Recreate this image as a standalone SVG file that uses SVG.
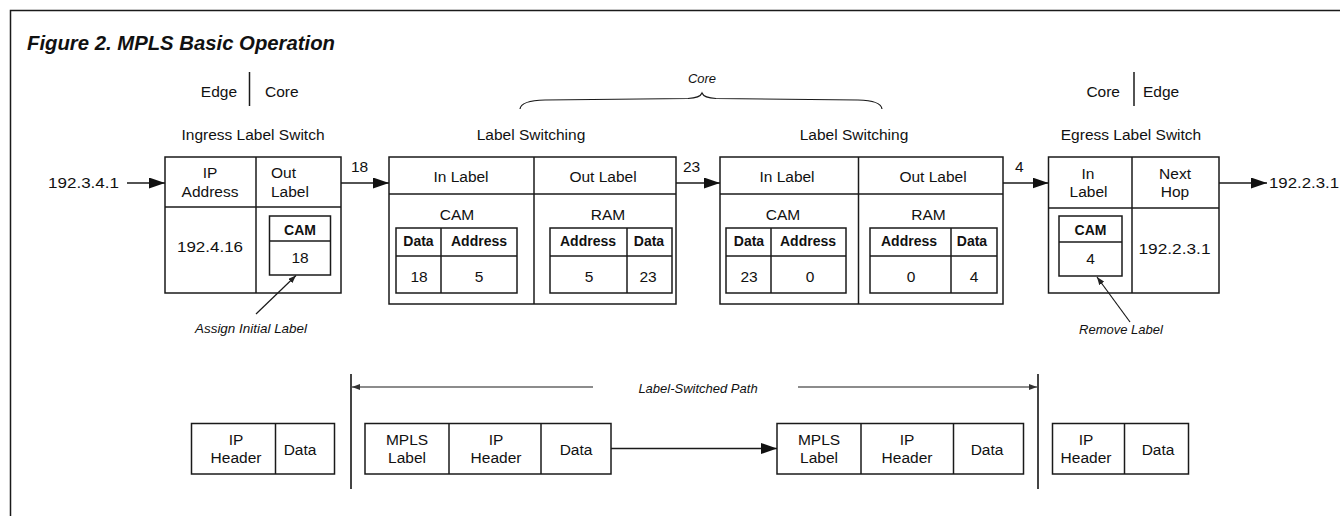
<svg xmlns="http://www.w3.org/2000/svg" width="1340" height="516" viewBox="0 0 1340 516">
  <style>
    text { font-family: "Liberation Sans", Arial, sans-serif; fill: #111; }
    .t { font-size: 15.5px; text-anchor: middle; }
    .ts { font-size: 15.5px; }
    .b { font-size: 14px; font-weight: bold; text-anchor: middle; }
    .it { font-size: 13px; font-style: italic; text-anchor: middle; }
    .title { font-size: 21px; font-weight: bold; font-style: italic; }
    .box { fill: #fff; stroke: #1a1a1a; stroke-width: 1.5; }
    .ln { fill: none; stroke: #1a1a1a; stroke-width: 1.5; }
    .thin { fill: none; stroke: #1a1a1a; stroke-width: 1.2; }
    .lsp { fill: none; stroke: #666; stroke-width: 1.5; }
    .bar { fill: none; stroke: #444; stroke-width: 2; }
  </style>
  <defs>
    <marker id="big" viewBox="0 0 16 11" refX="16" refY="5.5" markerWidth="16" markerHeight="11" markerUnits="userSpaceOnUse" orient="auto">
      <path d="M0,0 L16,5.5 L0,11 z" fill="#111"/>
    </marker>
    <marker id="small" viewBox="0 0 8 6" refX="8" refY="3" markerWidth="8" markerHeight="6" markerUnits="userSpaceOnUse" orient="auto-start-reverse">
      <path d="M0,0 L8,3 L0,6 z" fill="#222"/>
    </marker>
    <marker id="lspHead" viewBox="0 0 8 6" refX="8" refY="3" markerWidth="8" markerHeight="6" markerUnits="userSpaceOnUse" orient="auto-start-reverse">
      <path d="M0,0 L8,3 L0,6 z" fill="#333"/>
    </marker>
  </defs>

  <rect width="1340" height="516" fill="#fff"/>
  <!-- frame -->
  <path d="M10.5,516 V10.5 H1340" class="ln"/>

  <text x="27" y="50" class="title" textLength="308" lengthAdjust="spacingAndGlyphs">Figure 2. MPLS Basic Operation</text>

  <!-- edge / core boundaries -->
  <g id="boundary-left">
    <text x="237" y="97" class="ts" text-anchor="end">Edge</text>
    <line x1="249.5" y1="72" x2="249.5" y2="106" class="ln"/>
    <text x="265" y="97" class="ts">Core</text>
  </g>
  <g id="boundary-right">
    <text x="1120" y="97" class="ts" text-anchor="end">Core</text>
    <line x1="1134" y1="72" x2="1134" y2="106" class="ln"/>
    <text x="1143" y="97" class="ts">Edge</text>
  </g>
  <g id="core-brace">
    <text x="702" y="83" class="it">Core</text>
    <path d="M520,109 Q521,100.5 545,100 L688,98.5 Q700,98 702,93 Q704,98 716,98.5 L858,100 Q881,100.5 882,109" class="thin"/>
  </g>

  <!-- ingress switch -->
  <g id="ingress">
    <text x="253" y="140" class="t">Ingress Label Switch</text>
    <rect x="165" y="157" width="176" height="136" class="box"/>
    <line x1="165" y1="207" x2="341" y2="207" class="ln"/>
    <line x1="256" y1="157" x2="256" y2="293" class="ln"/>
    <text x="210" y="178" class="t">IP</text>
    <text x="210" y="197" class="t">Address</text>
    <text x="271" y="178" class="ts">Out</text>
    <text x="271" y="197" class="ts">Label</text>
    <text x="210" y="252" class="t" textLength="66" lengthAdjust="spacingAndGlyphs">192.4.16</text>
    <rect x="269.5" y="216" width="61" height="59" class="box"/>
    <line x1="269.5" y1="241" x2="330.5" y2="241" class="ln"/>
    <text x="300" y="235" class="b">CAM</text>
    <text x="300" y="263" class="t">18</text>
    <text x="251" y="333" class="it" textLength="112" lengthAdjust="spacingAndGlyphs">Assign Initial Label</text>
  </g>

  <!-- core label switch 1 -->
  <g id="lsr-1">
    <text x="531" y="140" class="t">Label Switching</text>
    <rect x="389" y="157" width="287" height="147" class="box"/>
    <line x1="389" y1="194" x2="676" y2="194" class="ln"/>
    <line x1="534" y1="157" x2="534" y2="304" class="ln"/>
    <text x="461" y="182" class="t">In Label</text>
    <text x="603" y="182" class="t">Out Label</text>
    <text x="457" y="220" class="t">CAM</text>
    <text x="608" y="220" class="t">RAM</text>
    <rect x="396" y="228" width="121" height="65" class="box"/>
    <line x1="441" y1="228" x2="441" y2="293" class="ln"/>
    <line x1="396" y1="256" x2="517" y2="256" class="ln"/>
    <text x="418.5" y="246" class="b">Data</text>
    <text x="479" y="246" class="b">Address</text>
    <text x="419" y="282" class="t">18</text>
    <text x="479" y="282" class="t">5</text>
    <rect x="550" y="228" width="122" height="65" class="box"/>
    <line x1="627" y1="228" x2="627" y2="293" class="ln"/>
    <line x1="550" y1="256" x2="672" y2="256" class="ln"/>
    <text x="588" y="246" class="b">Address</text>
    <text x="649" y="246" class="b">Data</text>
    <text x="589" y="282" class="t">5</text>
    <text x="648" y="282" class="t">23</text>
  </g>

  <!-- core label switch 2 -->
  <g id="lsr-2">
    <text x="854" y="140" class="t">Label Switching</text>
    <rect x="720" y="157" width="283" height="147" class="box"/>
    <line x1="720" y1="194" x2="1003" y2="194" class="ln"/>
    <line x1="858.5" y1="157" x2="858.5" y2="304" class="ln"/>
    <text x="787" y="182" class="t">In Label</text>
    <text x="933" y="182" class="t">Out Label</text>
    <text x="783" y="220" class="t">CAM</text>
    <text x="928.5" y="220" class="t">RAM</text>
    <rect x="726" y="228" width="120" height="65" class="box"/>
    <line x1="771" y1="228" x2="771" y2="293" class="ln"/>
    <line x1="726" y1="256" x2="846" y2="256" class="ln"/>
    <text x="749" y="246" class="b">Data</text>
    <text x="808" y="246" class="b">Address</text>
    <text x="749" y="282" class="t">23</text>
    <text x="810" y="282" class="t">0</text>
    <rect x="870" y="228" width="127" height="65" class="box"/>
    <line x1="951" y1="228" x2="951" y2="293" class="ln"/>
    <line x1="870" y1="256" x2="997" y2="256" class="ln"/>
    <text x="909" y="246" class="b">Address</text>
    <text x="972" y="246" class="b">Data</text>
    <text x="911" y="282" class="t">0</text>
    <text x="974" y="282" class="t">4</text>
  </g>

  <!-- egress switch -->
  <g id="egress">
    <text x="1131" y="140" class="t">Egress Label Switch</text>
    <rect x="1048.5" y="157" width="170.5" height="136" class="box"/>
    <line x1="1048.5" y1="208" x2="1219" y2="208" class="ln"/>
    <line x1="1132" y1="157" x2="1132" y2="293" class="ln"/>
    <text x="1088" y="179" class="t">In</text>
    <text x="1088.5" y="197" class="t">Label</text>
    <text x="1175" y="179" class="t">Next</text>
    <text x="1175" y="197" class="t">Hop</text>
    <rect x="1059" y="216" width="63" height="60" class="box"/>
    <line x1="1059" y1="242" x2="1122" y2="242" class="ln"/>
    <text x="1090.5" y="235" class="b">CAM</text>
    <text x="1090.5" y="263.5" class="t">4</text>
    <text x="1174.5" y="254" class="t" textLength="72" lengthAdjust="spacingAndGlyphs">192.2.3.1</text>
    <text x="1121" y="334" class="it">Remove Label</text>
  </g>

  <!-- packet formats along the path -->
  <g id="packet-ip-in">
    <rect x="191.5" y="423.5" width="143" height="50.5" class="box"/>
    <line x1="275.5" y1="423.5" x2="275.5" y2="474" class="ln"/>
    <text x="236" y="445" class="t">IP</text>
    <text x="236" y="463" class="t">Header</text>
    <text x="300" y="455" class="t">Data</text>
  </g>
  <g id="packet-mpls-1">
    <rect x="365" y="423.5" width="246" height="50.5" class="box"/>
    <line x1="449" y1="423.5" x2="449" y2="474" class="ln"/>
    <line x1="541" y1="423.5" x2="541" y2="474" class="ln"/>
    <text x="407" y="445" class="t">MPLS</text>
    <text x="407" y="463" class="t">Label</text>
    <text x="496" y="445" class="t">IP</text>
    <text x="496" y="463" class="t">Header</text>
    <text x="576" y="455" class="t">Data</text>
  </g>
  <g id="packet-mpls-2">
    <rect x="777" y="423.5" width="246.5" height="50.5" class="box"/>
    <line x1="861" y1="423.5" x2="861" y2="474" class="ln"/>
    <line x1="953.5" y1="423.5" x2="953.5" y2="474" class="ln"/>
    <text x="819" y="445" class="t">MPLS</text>
    <text x="819" y="463" class="t">Label</text>
    <text x="907" y="445" class="t">IP</text>
    <text x="907" y="463" class="t">Header</text>
    <text x="987" y="455" class="t">Data</text>
  </g>
  <g id="packet-ip-out">
    <rect x="1052.5" y="423.5" width="136" height="50.5" class="box"/>
    <line x1="1124.5" y1="423.5" x2="1124.5" y2="474" class="ln"/>
    <text x="1086" y="445" class="t">IP</text>
    <text x="1086" y="463" class="t">Header</text>
    <text x="1158" y="455" class="t">Data</text>
  </g>

  <!-- label-switched path span -->
  <g id="lsp">
    <line x1="351" y1="374" x2="351" y2="489" class="bar"/>
    <line x1="1038" y1="374" x2="1038" y2="489" class="bar"/>
    <line x1="352" y1="387" x2="593" y2="387" class="lsp" marker-start="url(#lspHead)"/>
    <line x1="798" y1="387" x2="1037" y2="387" class="lsp" marker-end="url(#lspHead)"/>
    <text x="698" y="393" class="it">Label-Switched Path</text>
  </g>

  <!-- connectors -->
  <g id="connectors">
    <text x="48" y="188" class="ts" textLength="71" lengthAdjust="spacingAndGlyphs">192.3.4.1</text>
    <line x1="127" y1="183" x2="165" y2="183" class="ln" marker-end="url(#big)"/>
    <text x="351" y="172" class="ts">18</text>
    <line x1="341" y1="183" x2="389" y2="183" class="ln" marker-end="url(#big)"/>
    <text x="683" y="172" class="ts">23</text>
    <line x1="676" y1="183" x2="720" y2="183" class="ln" marker-end="url(#big)"/>
    <text x="1015" y="172" class="ts">4</text>
    <line x1="1003" y1="183" x2="1048.5" y2="183" class="ln" marker-end="url(#big)"/>
    <line x1="1219" y1="183" x2="1267" y2="183" class="ln" marker-end="url(#big)"/>
    <text x="1269" y="188" class="ts" textLength="70" lengthAdjust="spacingAndGlyphs">192.2.3.1</text>
    <line x1="256" y1="314" x2="296" y2="275.5" class="thin" marker-end="url(#small)"/>
    <line x1="1130" y1="322" x2="1097" y2="277" class="thin" marker-end="url(#small)"/>
    <line x1="611" y1="448.5" x2="777" y2="448.5" class="ln" marker-end="url(#big)"/>
  </g>
</svg>
